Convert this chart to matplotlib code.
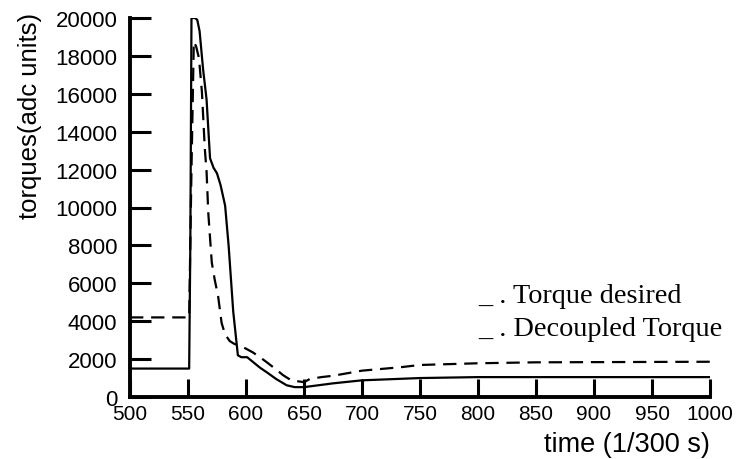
import matplotlib.pyplot as plt
import numpy as np

# time axis samples (1/300 s) and torque readings (adc units)
t_dec = [500, 550, 551, 552, 553, 556, 558, 560, 563, 566, 569, 572, 575, 578,
         582, 585, 589, 593, 596, 601, 606, 612, 618, 626, 635, 642, 650,
         660, 675, 700, 750, 800, 900, 1000]
decoupled = [1500, 1500, 1500, 8000, 20000, 20000, 19900, 19300, 17300, 15700,
             12600, 12100, 11800, 11200, 10100, 8000, 4500, 2200, 2100, 2100,
             1850, 1550, 1300, 950, 620, 520, 520, 600, 720, 880, 1000, 1050,
             1050, 1050]

t_des = [500, 550, 551, 553, 555, 557, 559, 560, 562, 564.5, 566, 567.5, 570.5,
         573, 576, 579, 582, 586, 590, 595, 600, 606, 612, 618, 626, 632,
         639, 648, 650, 655, 665, 675, 700, 733, 750, 800, 850, 900, 1000]
desired = [4200, 4200, 4200, 12000, 18750, 18500, 18000, 17500, 16100, 13100,
           11900, 9700, 7100, 6200, 5300, 3900, 3300, 2950, 2800, 2700, 2550,
           2350, 2100, 1830, 1450, 1150, 880, 800, 780, 950, 1050, 1120,
           1390, 1570, 1690, 1780, 1830, 1840, 1860]

legend_labels = ["_ . Torque desired", "_ . Decoupled Torque"]
xticks = np.arange(500, 1001, 50)
yticks = np.arange(0, 20001, 2000)

plt.rcParams['font.family'] = ['Liberation Sans', 'DejaVu Sans']

fig = plt.figure(figsize=(7.37, 4.6), dpi=100)
ax = fig.add_axes([130 / 737, 1 - 398 / 460, 580 / 737, 379 / 460])

ax.plot(t_dec, decoupled, color='black', lw=1.6)
ax.plot(t_des, desired, color='black', lw=1.6, linestyle=(0, (6, 3.5)))

ax.set_xlim(500, 1000)
ax.set_ylim(0, 20000)
ax.set_xticks(xticks)
ax.set_yticks(yticks)
ax.spines['top'].set_visible(False)
ax.spines['right'].set_visible(False)
ax.spines['left'].set_linewidth(2.8)
ax.spines['bottom'].set_linewidth(2.8)
ax.tick_params(axis='x', direction='in', length=13, width=2.2, labelsize=15, pad=5)
ax.tick_params(axis='y', direction='in', length=15, width=2.2, labelsize=16, pad=9)

ax.set_ylabel("torques(adc units)", fontsize=18.5)
ax.yaxis.set_label_coords(-0.152, 0.745)
ax.set_xlabel("time (1/300 s)", fontsize=19.5, loc='right', labelpad=6)

for lab, yy in zip(legend_labels, [0.269, 0.182]):
    ax.text(0.6, yy, lab, transform=ax.transAxes, fontsize=20.3,
            family=['Liberation Serif', 'DejaVu Serif'], va='center', ha='left')

fig.savefig("out.png", dpi=100)
